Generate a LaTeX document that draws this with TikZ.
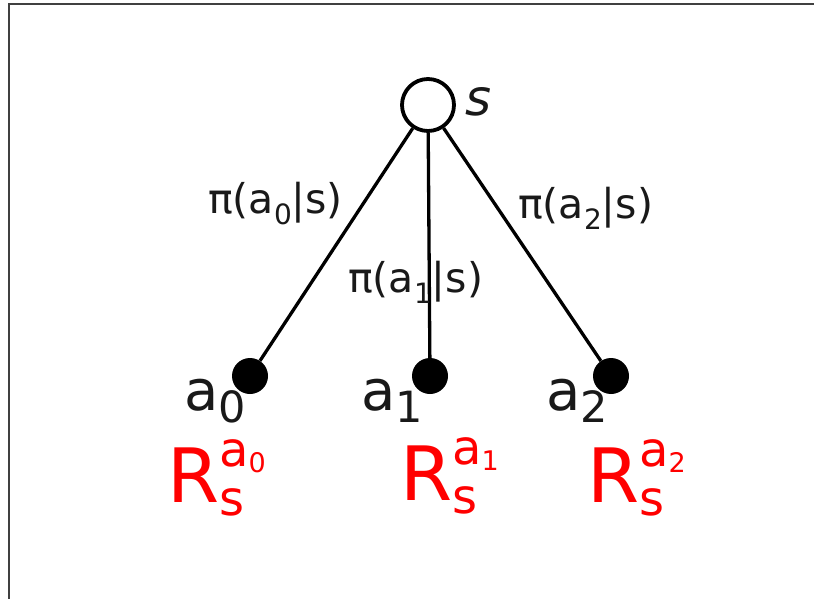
\documentclass[tikz,border=0pt]{standalone}
\usepackage{fontspec}
\setmainfont{DejaVu Sans}
\newfontfamily\obliq{DejaVu Sans Oblique}
\newcommand{\fsz}[1]{\fontsize{#1}{#1}\selectfont}
\newcommand{\edgelab}[1]{{\fsz{41}π(a\raisebox{-11pt}{\fsz{28}#1}|s)}}
\newcommand{\actlab}[1]{{\fsz{56}a\raisebox{-12pt}{\fsz{43}#1}}}
\newcommand{\rewlab}[1]{{\fsz{75}R\rlap{\raisebox{36pt}{\fsz{48}a\raisebox{-6pt}{\fsz{27}#1}}}\raisebox{-13pt}{\fsz{48}s}}}
\begin{document}
\begin{tikzpicture}[x=1pt,y=-1pt,
  root/.style={circle,draw=black,line width=3.8pt,fill=white,inner sep=0pt,minimum size=52pt},
  leaf/.style={circle,fill=black,inner sep=0pt,minimum size=36pt},
  txt/.style={anchor=base west,inner sep=0pt,text=black!90},
  rew/.style={anchor=base west,inner sep=0pt,text=red},
  edge/.style={line width=3.3pt,black}]
\useasboundingbox (0,0) rectangle (814,599);
\fill[white] (0,0) rectangle (814,599);
\coordinate (tl) at (9,4);
\coordinate (tr) at (814,4);
\coordinate (bl) at (9,599);
\draw[line width=1.6pt,black!75] (tr) -- (tl) -- (bl);

\node[leaf] (a0) at (250,376) {};
\node[leaf] (a1) at (430,376) {};
\node[leaf] (a2) at (611,376) {};
\node[root] (s) at (428,105) {};
\draw[edge] (s) -- (a0);
\draw[edge] (s) -- (a1);
\draw[edge] (s) -- (a2);

\node[txt] (slab) at (465,116) {\fsz{50}\obliq s};
\node[txt] (p0) at (208,213) {\edgelab{0}};
\node[txt] (p1) at (348,292) {\edgelab{1}};
\node[txt] (p2) at (518,218) {\edgelab{2}};

\node[txt] (l0) at (184,410) {\actlab{0}};
\node[txt] (l1) at (361,410) {\actlab{1}};
\node[txt] (l2) at (546,410) {\actlab{2}};

\node[rew] (r0) at (167,502) {\rewlab{0}};
\node[rew] (r1) at (400,500) {\rewlab{1}};
\node[rew] (r2) at (587,502) {\rewlab{2}};
\end{tikzpicture}
\end{document}
